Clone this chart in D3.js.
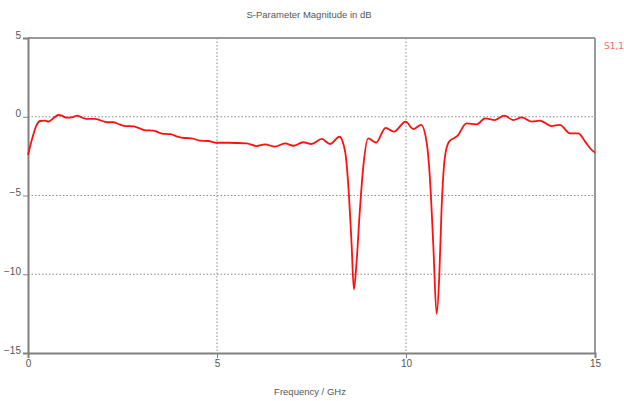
<!DOCTYPE html>
<html>
<head>
<meta charset="utf-8">
<script src="https://cdn.jsdelivr.net/npm/d3@7"></script>
<style>
	body { margin: 0; background: #fff; }
	text { font-family: "Liberation Sans", Arial, sans-serif; fill: #555; }
</style>
</head>
<body>
<script>
// S1,1: frequency in GHz, magnitude in dB
var freq = [0, 0.1, 0.23, 0.32, 0.45, 0.54, 0.67, 0.8, 0.89, 1.02, 1.16, 1.3, 1.42, 1.55, 1.77, 1.9,
	2.08, 2.26, 2.39, 2.57, 2.79, 2.92, 3.1, 3.32, 3.54, 3.77, 3.93, 4.15, 4.33, 4.55, 4.77, 4.99,
	5.3, 5.78, 6.05, 6.27, 6.53, 6.8, 7.02, 7.28, 7.5, 7.77, 7.99, 8.24, 8.39, 8.47, 8.56, 8.62,
	8.69, 8.78, 8.87, 9.0, 9.21, 9.46, 9.68, 9.99, 10.19, 10.4, 10.55, 10.63, 10.72, 10.81, 10.88,
	10.94, 11.03, 11.14, 11.36, 11.6, 11.87, 12.09, 12.35, 12.6, 12.84, 13.06, 13.33, 13.54, 13.85,
	14.07, 14.34, 14.56, 14.74, 14.87, 15.0];
var s11 = [-2.43, -1.48, -0.52, -0.27, -0.25, -0.31, -0.10, 0.11, 0.07, -0.06, -0.04, 0.07, -0.04, -0.14, -0.14, -0.21,
	-0.35, -0.35, -0.46, -0.59, -0.61, -0.71, -0.86, -0.88, -1.07, -1.11, -1.24, -1.35, -1.37, -1.52, -1.54, -1.65,
	-1.65, -1.69, -1.86, -1.75, -1.90, -1.69, -1.84, -1.62, -1.73, -1.41, -1.73, -1.27, -2.22, -4.23, -8.04, -10.96,
	-9.3, -5.92, -3.17, -1.37, -1.64, -0.70, -0.95, -0.31, -0.78, -0.52, -1.69, -3.8, -8.03, -12.52, -10.15,
	-5.92, -2.54, -1.58, -1.22, -0.42, -0.48, -0.10, -0.21, 0.07, -0.21, -0.04, -0.31, -0.25, -0.59,
	-0.52, -1.05, -1.05, -1.58, -2.0, -2.28];

var xTicks = [0, 5, 10, 15];
var yTicks = [5, 0, -5, -10, -15];

var margin = { top: 38, right: 29, bottom: 48, left: 28 };
var width = 624 - margin.left - margin.right,
	height = 401 - margin.top - margin.bottom;

var svg = d3.select('body').append('svg')
	.attr('width', 624)
	.attr('height', 401);

var g = svg.append('g')
	.attr('transform', `translate(${margin.left}, ${margin.top})`);

var x = d3.scaleLinear().domain([0, 15]).range([0, width]);
var y = d3.scaleLinear().domain([-15, 5]).range([height, 0]);

// dotted grid
g.selectAll('.vgrid')
	.data(xTicks.filter(function(d) { return d > 0 && d < 15; }))
	.enter().append('line')
	.attr('x1', function(d) { return x(d); })
	.attr('x2', function(d) { return x(d); })
	.attr('y1', 0)
	.attr('y2', height)
	.style('stroke', '#888')
	.style('stroke-dasharray', '1.5,2');

g.selectAll('.hgrid')
	.data(yTicks.filter(function(d) { return d > -15 && d < 5; }))
	.enter().append('line')
	.attr('x1', 0)
	.attr('x2', width)
	.attr('y1', function(d) { return y(d); })
	.attr('y2', function(d) { return y(d); })
	.style('stroke', '#888')
	.style('stroke-dasharray', '1.5,2');

// frame: top and right in lighter grey
g.append('line').attr('x1', 0).attr('x2', width).attr('y1', 0).attr('y2', 0)
	.style('stroke', '#999').style('stroke-width', 2);
g.append('line').attr('x1', width).attr('x2', width).attr('y1', 0).attr('y2', height)
	.style('stroke', '#999').style('stroke-width', 2);

// axes
var xAxis = d3.axisBottom(x).tickValues(xTicks).tickSize(5).tickPadding(2);
var yAxis = d3.axisLeft(y).tickValues(yTicks).tickSize(5).tickPadding(2);

var gx = g.append('g')
	.attr('transform', `translate(0, ${height})`)
	.call(xAxis);
var gy = g.append('g').call(yAxis);

[gx, gy].forEach(function(a) {
	a.select('.domain').style('stroke', '#808080').style('stroke-width', 2);
	a.selectAll('.tick line').style('stroke', '#808080');
	a.selectAll('.tick text').style('font-size', '10px').style('fill', '#555');
});
gy.selectAll('.tick text').attr('dy', '0.0em');

// the S1,1 curve
var pts = freq.map(function(f, i) { return [f, s11[i]]; });
var line = d3.line()
	.x(function(d) { return x(d[0]); })
	.y(function(d) { return y(d[1]); })
	.curve(d3.curveMonotoneX);

g.append('path')
	.datum(pts)
	.attr('d', line)
	.style('fill', 'none')
	.style('stroke', '#ff1010')
	.style('stroke-width', 1.8)
	.style('stroke-linejoin', 'round');

// titles
svg.append('text')
	.attr('x', 309)
	.attr('y', 18)
	.attr('text-anchor', 'middle')
	.style('font-size', '9.5px')
	.text('S-Parameter Magnitude in dB');

svg.append('text')
	.attr('x', 310)
	.attr('y', 395)
	.attr('text-anchor', 'middle')
	.style('font-size', '9.5px')
	.text('Frequency / GHz');

// legend entry, kept inside the right edge
svg.append('text')
	.attr('x', 604)
	.attr('y', 49)
	.style('font-size', '9px')
	.style('font-family', '"DejaVu Sans", sans-serif')
	.style('fill', '#ff6666')
	.text('S1,1');
</script>
</body>
</html>
